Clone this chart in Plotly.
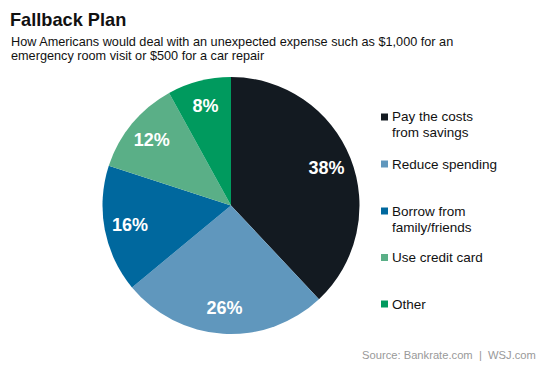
import plotly.graph_objects as go

categories = ["Pay the costs from savings", "Reduce spending", "Borrow from family/friends",
              "Use credit card", "Other"]
legend_lines = [["Pay the costs", "from savings"], ["Reduce spending"], ["Borrow from", "family/friends"],
                ["Use credit card"], ["Other"]]
values = [38, 26, 16, 12, 8]
colors = ["#131a21", "#6097bd", "#00689e", "#5aaf87", "#009a5e"]

W, H = 553, 369
OFF = 8  # page body margin
FONT = "Arial, Liberation Sans, sans-serif"

def px(x):
    return (x - OFF) / W

def py(y):
    return 1 - (y - OFF) / H

cx, cy, r = 231, 205.5, 128.5
dom_x = [px(cx - r), px(cx + r)]
dom_y = [py(cy + r), py(cy - r)]

fig = go.Figure()
fig.add_trace(go.Pie(
    labels=categories, values=values, sort=False, direction="clockwise", rotation=0,
    marker=dict(colors=colors, line=dict(width=0)), textinfo="none",
    hoverinfo="skip", showlegend=False, domain=dict(x=dom_x, y=dom_y),
))
fig.add_trace(go.Pie(
    labels=categories, values=values, sort=False, direction="clockwise", rotation=0,
    hole=0.6, marker=dict(colors=["rgba(0,0,0,0)"] * 5, line=dict(width=0)),
    texttemplate="%{value}%", textposition="inside", insidetextorientation="horizontal",
    textfont=dict(family=FONT, size=18, color="white", weight="bold"),
    hoverinfo="skip", showlegend=False, domain=dict(x=dom_x, y=dom_y),
))

annotations = [
    dict(text="<b>Fallback Plan</b>", x=px(8), y=py(20), xanchor="left", yanchor="middle",
         font=dict(family=FONT, size=18.2, color="#111111")),
    dict(text="How Americans would deal with an unexpected expense such as $1,000 for an",
         x=px(9), y=py(41.5), xanchor="left", yanchor="middle",
         font=dict(family=FONT, size=12.7, color="#111111")),
    dict(text="emergency room visit or $500 for a car repair",
         x=px(9), y=py(56), xanchor="left", yanchor="middle",
         font=dict(family=FONT, size=12.7, color="#111111")),
    dict(text="Source: Bankrate.com &nbsp;|&nbsp; WSJ.com", x=px(538), y=py(355), xanchor="right",
         yanchor="middle", font=dict(family=FONT, size=11.2, color="#999999")),
]
shapes = []
item_y = [117, 164, 211, 257.5, 304]
for lines, col, y0 in zip(legend_lines, colors, item_y):
    shapes.append(dict(type="rect", xref="paper", yref="paper", x0=px(381), x1=px(388),
                       y0=py(y0 + 3.5), y1=py(y0 - 3.5), fillcolor=col, line=dict(width=0)))
    for i, ln in enumerate(lines):
        annotations.append(dict(text=ln, x=px(390), y=py(y0 + i * 16), xanchor="left",
                                yanchor="middle",
                                font=dict(family=FONT, size=13.5, color="#111111")))
for a in annotations:
    a.update(xref="paper", yref="paper", showarrow=False)

fig.update_layout(
    width=W, height=H, margin=dict(l=0, r=0, t=0, b=0),
    paper_bgcolor="white", plot_bgcolor="white",
    annotations=annotations, shapes=shapes, showlegend=False,
)
fig.write_html("out.html")
